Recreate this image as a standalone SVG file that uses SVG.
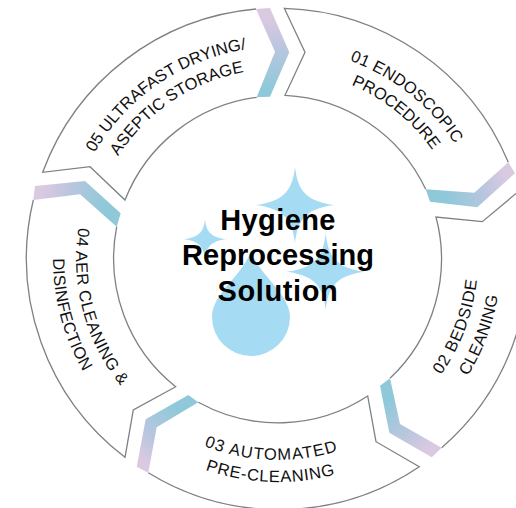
<svg xmlns="http://www.w3.org/2000/svg" xmlns:xlink="http://www.w3.org/1999/xlink" width="516" height="508" viewBox="0 0 516 508">
<style>
.seg{fill:none;stroke:#7d8185;stroke-width:1.3;stroke-linejoin:miter}
.lbl{font-family:"Liberation Sans",Arial,sans-serif;font-size:16.5px;fill:#111;text-anchor:middle}
.ttl{font-family:"Liberation Sans",Arial,sans-serif;font-size:29px;font-weight:700;fill:#000;text-anchor:middle}
.drop{fill:#a6dcf3}
</style>
<defs>
<path id="star" d="M0-1C.06-.45.22-.1 1 0C.22.1.06.45 0 1C-.06.45-.22.1-1 0C-.22-.1-.06-.45 0-1Z"/>
<linearGradient id="g1" gradientUnits="userSpaceOnUse" x1="428" y1="195" x2="512" y2="168"><stop offset=".2" stop-color="#8fc9d9"/><stop offset=".62" stop-color="#b9c6de"/><stop offset=".9" stop-color="#d9c9e1"/></linearGradient>
<linearGradient id="g2" gradientUnits="userSpaceOnUse" x1="385" y1="382" x2="437" y2="452"><stop offset=".2" stop-color="#8fc9d9"/><stop offset=".62" stop-color="#b9c6de"/><stop offset=".9" stop-color="#d9c9e1"/></linearGradient>
<linearGradient id="g3" gradientUnits="userSpaceOnUse" x1="193" y1="398" x2="142" y2="470"><stop offset=".2" stop-color="#8fc9d9"/><stop offset=".62" stop-color="#b9c6de"/><stop offset=".9" stop-color="#d9c9e1"/></linearGradient>
<linearGradient id="g4" gradientUnits="userSpaceOnUse" x1="118" y1="220" x2="34" y2="193"><stop offset=".2" stop-color="#8fc9d9"/><stop offset=".62" stop-color="#b9c6de"/><stop offset=".9" stop-color="#d9c9e1"/></linearGradient>
<linearGradient id="g5" gradientUnits="userSpaceOnUse" x1="263" y1="97" x2="263" y2="9"><stop offset=".1" stop-color="#8fc9d9"/><stop offset=".55" stop-color="#b9c6de"/><stop offset=".88" stop-color="#d9c9e1"/></linearGradient>
<path id="t189" d="M89 259A189 189 0 0 1 467 259"/>
<path id="t190" d="M88 259A190 190 0 0 1 468 259"/>
<path id="t211" d="M67 259A211 211 0 0 1 489 259"/>
<path id="t212" d="M66 259A212 212 0 0 1 490 259"/>
<path id="b200" d="M78 259A200 200 0 0 0 478 259"/>
<path id="b201" d="M77 259A201 201 0 0 0 479 259"/>
<path id="b202" d="M76 259A202 202 0 0 0 480 259"/>
<path id="b223" d="M55 259A223 223 0 0 0 501 259"/>
<path id="b225" d="M53 259A225 225 0 0 0 503 259"/>
</defs>
<rect width="516" height="508" fill="#fff"/>
<g id="connectors">
<polygon fill="url(#g1)" points="425.7,189.3 474.3,192.7 508.3,162.3 515,173.3 477.3,207.3 430,201.7"/>
<polygon fill="url(#g2)" points="390,378.3 400,424 441.7,447.7 431.7,457.3 389.3,432.7 380,385.7"/>
<polygon fill="url(#g3)" points="198.3,402.3 156.7,427.3 148.3,472.7 136.7,466.7 145.7,419.3 188.3,395"/>
<polygon fill="url(#g4)" points="116.7,226.7 80,194.3 33.3,200 35,186 85,181 120.7,213.3"/>
<polygon fill="url(#g5)" points="256.7,97.3 275,51.7 256,9 270,8 289.3,52.3 270,96.7"/>
</g>
<g id="node-01">
<path class="seg" d="M425.7 189.3A164 164 0 0 0 285 95.3L305 52.3L284.3 8.3A250.5 250.5 0 0 1 508.3 162.3"/>
<text class="lbl" transform="rotate(38.4 278 259)"><textPath href="#t211" xlink:href="#t211" startOffset="50%" letter-spacing=".2">01 ENDOSCOPIC</textPath></text>
<text class="lbl" transform="rotate(38.8 278 259)"><textPath href="#t189" xlink:href="#t189" startOffset="50%">PROCEDURE</textPath></text>
</g>
<g id="node-02">
<path class="seg" d="M390 378.3A164 164 0 0 0 436 217L482.3 221.7L519 191A250.5 250.5 0 0 1 441.7 447.7"/>
<text class="lbl" transform="rotate(-69.4 278 259)"><textPath href="#b200" xlink:href="#b200" startOffset="50%" letter-spacing=".8">02 BEDSIDE</textPath></text>
<text class="lbl" transform="rotate(-69.4 278 259)"><textPath href="#b223" xlink:href="#b223" startOffset="50%" letter-spacing=".3">CLEANING</textPath></text>
</g>
<g id="node-03">
<path class="seg" d="M198.3 402.3A164 164 0 0 0 367.7 396L376 441.7L419.3 466.7A250.5 250.5 0 0 1 148.3 472.7"/>
<text class="lbl" transform="rotate(2 278 259)"><textPath href="#b201" xlink:href="#b201" startOffset="50%" letter-spacing="1.1">03 AUTOMATED</textPath></text>
<text class="lbl" transform="rotate(2 278 259)"><textPath href="#b223" xlink:href="#b223" startOffset="50%" letter-spacing=".7">PRE-CLEANING</textPath></text>
</g>
<g id="node-04">
<path class="seg" d="M116.7 226.7A164 164 0 0 0 175.7 386.7L133.3 410L125 457.3A250.5 250.5 0 0 1 33.3 200"/>
<text class="lbl" transform="rotate(75 278 259)"><textPath href="#b202" xlink:href="#b202" startOffset="50%" letter-spacing=".5">04 AER CLEANING &amp;</textPath></text>
<text class="lbl" transform="rotate(75 278 259)"><textPath href="#b225" xlink:href="#b225" startOffset="50%" letter-spacing=".2">DISINFECTION</textPath></text>
</g>
<g id="node-05">
<path class="seg" d="M256.7 97.3A164 164 0 0 0 125 200L90 166.7L42.7 172.3A250.5 250.5 0 0 1 256 9"/>
<text class="lbl" transform="rotate(-34.3 278 259)"><textPath href="#t212" xlink:href="#t212" startOffset="50%">05 ULTRAFAST DRYING/</textPath></text>
<text class="lbl" transform="rotate(-33.8 278 259)"><textPath href="#t190" xlink:href="#t190" startOffset="50%">ASEPTIC STORAGE</textPath></text>
</g>
<g id="node-center">
<use href="#star" xlink:href="#star" class="drop" transform="translate(295 205) scale(39 38.5)"/>
<use href="#star" xlink:href="#star" class="drop" transform="translate(205 239.3) scale(21 20)"/>
<use href="#star" xlink:href="#star" class="drop" transform="translate(325.7 271.7) scale(39 38.5)"/>
<path class="drop" d="M251 250C258 275 290 293 290 317A39 39 0 1 1 212 317C212 293 244 275 251 250Z"/>
<text class="ttl" x="278" y="229.5" letter-spacing=".4">Hygiene</text>
<text class="ttl" x="278" y="265">Reprocessing</text>
<text class="ttl" x="278" y="301" letter-spacing=".6">Solution</text>
</g>
</svg>
